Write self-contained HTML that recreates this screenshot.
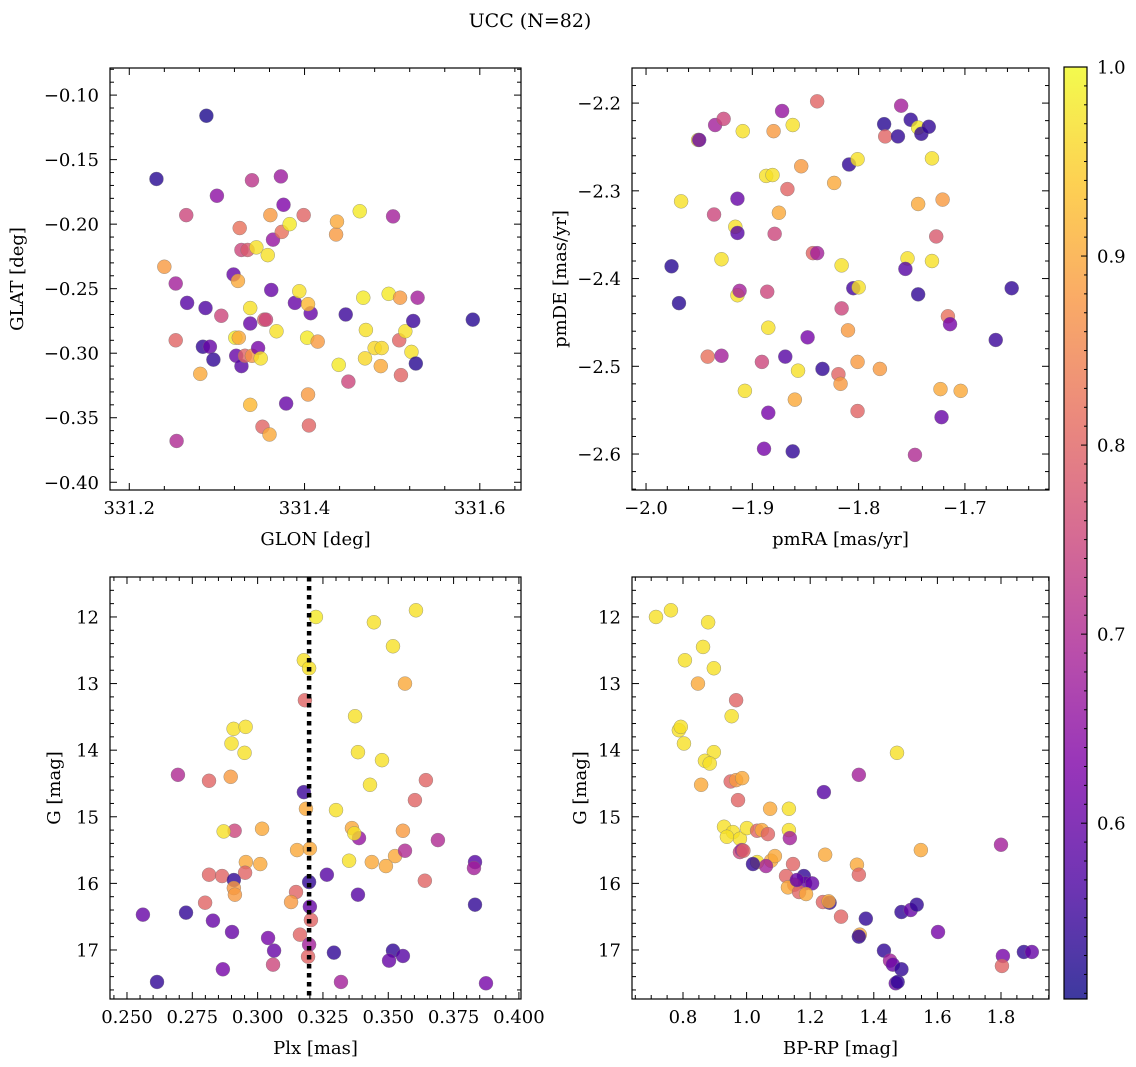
<!DOCTYPE html>
<html><head><meta charset="utf-8">
<style>
html,body{margin:0;padding:0;background:#fff;}
svg{display:block;font-family:"DejaVu Serif","Liberation Serif",serif;}
</style></head>
<body>
<svg id="chart" width="1136" height="1067" viewBox="0 0 1136 1067" xmlns="http://www.w3.org/2000/svg">
<defs>
<linearGradient id="plasma" x1="0" y1="1" x2="0" y2="0">
<stop offset="0" stop-color="#0d0887"/><stop offset="0.125" stop-color="#4c02a1"/><stop offset="0.25" stop-color="#7e03a8"/><stop offset="0.375" stop-color="#a92395"/><stop offset="0.5" stop-color="#cc4778"/><stop offset="0.625" stop-color="#e66c5c"/><stop offset="0.75" stop-color="#f89540"/><stop offset="0.875" stop-color="#fdc527"/><stop offset="1" stop-color="#f0f921"/>
</linearGradient>
</defs>
<text x="530" y="27" text-anchor="middle" font-size="19">UCC (N=82)</text>
</svg>
<script>
// ---------- data ----------
const glon=[331.288,331.231,331.265,331.300,331.340,331.373,331.240,331.253,331.266,331.253,331.254,331.287,331.284,331.292,331.296,331.281,331.305,331.319,331.326,331.328,331.335,331.345,331.324,331.321,331.325,331.322,331.328,331.332,331.340,331.338,331.338,331.347,331.350,331.338,331.352,331.360,331.354,331.356,331.361,331.358,331.364,331.362,331.368,331.374,331.383,331.376,331.399,331.389,331.394,331.379,331.403,331.407,331.404,331.415,331.404,331.405,331.436,331.437,331.463,331.467,331.447,331.439,331.450,331.470,331.469,331.480,331.488,331.487,331.496,331.501,331.509,331.508,331.515,331.522,331.510,331.529,331.524,331.527,331.592];
const glat=[-0.116,-0.165,-0.193,-0.178,-0.166,-0.163,-0.233,-0.246,-0.261,-0.290,-0.368,-0.265,-0.295,-0.295,-0.305,-0.316,-0.271,-0.239,-0.203,-0.220,-0.220,-0.218,-0.244,-0.288,-0.288,-0.302,-0.310,-0.302,-0.302,-0.265,-0.277,-0.296,-0.304,-0.340,-0.357,-0.363,-0.274,-0.274,-0.193,-0.224,-0.212,-0.251,-0.283,-0.206,-0.200,-0.185,-0.193,-0.261,-0.252,-0.339,-0.288,-0.269,-0.262,-0.291,-0.332,-0.356,-0.208,-0.198,-0.190,-0.257,-0.270,-0.309,-0.322,-0.282,-0.304,-0.296,-0.296,-0.310,-0.254,-0.194,-0.257,-0.290,-0.283,-0.299,-0.317,-0.257,-0.275,-0.308,-0.274];
const probA=[0.52,0.53,0.75,0.65,0.72,0.67,0.88,0.68,0.58,0.80,0.70,0.57,0.54,0.60,0.54,0.90,0.75,0.60,0.82,0.75,0.78,0.97,0.90,0.98,0.90,0.60,0.58,0.80,0.87,0.97,0.60,0.62,0.97,0.92,0.80,0.90,0.80,0.75,0.88,0.97,0.66,0.60,0.97,0.82,0.98,0.63,0.80,0.60,0.97,0.60,0.98,0.60,0.92,0.88,0.88,0.80,0.88,0.90,0.98,0.98,0.55,0.98,0.75,0.97,0.96,0.96,0.96,0.90,0.98,0.68,0.88,0.80,0.97,0.97,0.80,0.68,0.55,0.53,0.53];

const pmra=[-1.951,-1.950,-1.935,-1.927,-1.909,-1.872,-1.880,-1.862,-1.839,-1.967,-1.887,-1.881,-1.914,-1.867,-1.854,-1.875,-1.823,-1.809,-1.801,-1.936,-1.916,-1.914,-1.879,-1.976,-1.969,-1.929,-1.914,-1.912,-1.886,-1.843,-1.839,-1.816,-1.805,-1.800,-1.816,-1.810,-1.776,-1.775,-1.763,-1.760,-1.751,-1.744,-1.741,-1.734,-1.731,-1.744,-1.721,-1.731,-1.754,-1.756,-1.744,-1.727,-1.716,-1.714,-1.656,-1.671,-1.848,-1.885,-1.942,-1.929,-1.891,-1.869,-1.834,-1.857,-1.819,-1.817,-1.801,-1.780,-1.907,-1.860,-1.723,-1.704,-1.885,-1.801,-1.722,-1.889,-1.862,-1.747];
const pmde=[-2.242,-2.242,-2.225,-2.218,-2.232,-2.209,-2.232,-2.225,-2.198,-2.312,-2.283,-2.282,-2.309,-2.298,-2.272,-2.325,-2.291,-2.270,-2.264,-2.327,-2.341,-2.348,-2.349,-2.386,-2.428,-2.378,-2.419,-2.414,-2.415,-2.371,-2.371,-2.385,-2.411,-2.410,-2.434,-2.459,-2.224,-2.238,-2.238,-2.203,-2.219,-2.228,-2.235,-2.227,-2.263,-2.315,-2.310,-2.380,-2.377,-2.389,-2.418,-2.352,-2.443,-2.452,-2.411,-2.470,-2.467,-2.456,-2.489,-2.488,-2.495,-2.489,-2.503,-2.505,-2.509,-2.520,-2.495,-2.503,-2.528,-2.538,-2.526,-2.528,-2.553,-2.551,-2.558,-2.594,-2.597,-2.601];
const probB=[0.97,0.60,0.68,0.75,0.97,0.66,0.88,0.97,0.80,0.97,0.97,0.97,0.60,0.80,0.88,0.90,0.90,0.54,0.97,0.75,0.97,0.58,0.75,0.53,0.53,0.97,0.97,0.68,0.75,0.80,0.68,0.97,0.56,0.97,0.75,0.88,0.53,0.80,0.54,0.68,0.54,0.98,0.54,0.54,0.97,0.90,0.88,0.97,0.97,0.58,0.54,0.78,0.82,0.62,0.54,0.55,0.62,0.97,0.82,0.68,0.75,0.58,0.54,0.97,0.80,0.88,0.88,0.88,0.97,0.90,0.90,0.90,0.62,0.80,0.60,0.62,0.54,0.70];

const plx=[0.3606,0.3223,0.3445,0.3518,0.3177,0.3197,0.3564,0.3181,0.3373,0.2908,0.2954,0.2900,0.2950,0.3384,0.3476,0.2695,0.2814,0.2897,0.3430,0.3644,0.3602,0.3177,0.3185,0.3300,0.3017,0.2912,0.2870,0.3361,0.3388,0.3370,0.3556,0.3690,0.3151,0.3200,0.3526,0.3564,0.3437,0.3350,0.3491,0.2955,0.3010,0.2952,0.2814,0.2864,0.2909,0.3197,0.3640,0.3832,0.3828,0.2909,0.2913,0.3147,0.3128,0.3265,0.3384,0.2799,0.3200,0.3832,0.2561,0.2726,0.2829,0.3204,0.2902,0.3040,0.3162,0.3197,0.3063,0.3292,0.3518,0.3556,0.3503,0.3193,0.3059,0.2867,0.2615,0.3319,0.3874];
const gC=[11.90,12.00,12.08,12.44,12.65,12.77,13.00,13.25,13.49,13.68,13.65,13.90,14.04,14.03,14.15,14.37,14.46,14.40,14.52,14.45,14.75,14.63,14.88,14.90,15.18,15.21,15.22,15.17,15.32,15.25,15.21,15.35,15.50,15.48,15.59,15.51,15.68,15.66,15.74,15.68,15.71,15.84,15.87,15.89,15.95,15.98,15.96,15.68,15.77,16.07,16.17,16.13,16.28,15.87,16.17,16.29,16.35,16.32,16.47,16.44,16.56,16.55,16.73,16.82,16.77,16.92,17.01,17.04,17.01,17.09,17.16,17.10,17.22,17.29,17.48,17.48,17.50];
const probC=[0.97,0.98,0.97,0.97,0.97,0.97,0.90,0.80,0.97,0.97,0.97,0.97,0.97,0.97,0.97,0.70,0.80,0.88,0.97,0.80,0.80,0.55,0.90,0.97,0.90,0.75,0.97,0.90,0.66,0.97,0.88,0.70,0.90,0.90,0.90,0.70,0.90,0.97,0.90,0.90,0.90,0.80,0.80,0.80,0.54,0.54,0.80,0.58,0.68,0.88,0.88,0.80,0.88,0.58,0.58,0.80,0.60,0.54,0.60,0.54,0.60,0.80,0.60,0.62,0.80,0.68,0.60,0.54,0.54,0.58,0.60,0.80,0.75,0.62,0.54,0.68,0.62];

const bprp=[0.715,0.762,0.879,0.863,0.806,0.897,0.847,0.967,0.953,0.787,0.793,0.803,0.897,0.869,0.884,0.857,0.950,0.967,0.986,0.973,1.353,1.473,1.243,1.074,1.133,0.929,0.957,0.979,0.938,1.001,1.033,1.048,1.067,1.133,1.136,0.979,0.985,0.990,1.033,1.077,1.089,1.061,1.146,1.020,1.247,1.347,1.353,1.548,1.800,1.124,1.180,1.184,1.150,1.206,1.130,1.165,1.187,1.158,1.240,1.261,1.258,1.375,1.297,1.356,1.353,1.487,1.516,1.535,1.432,1.451,1.460,1.487,1.469,1.475,1.602,1.806,1.803,1.872,1.897];
const gD=[12.00,11.90,12.08,12.45,12.65,12.77,13.00,13.25,13.49,13.70,13.65,13.90,14.03,14.16,14.20,14.52,14.47,14.45,14.42,14.75,14.37,14.04,14.63,14.88,14.88,15.15,15.23,15.33,15.30,15.17,15.21,15.20,15.26,15.20,15.32,15.53,15.50,15.51,15.68,15.66,15.59,15.74,15.71,15.71,15.57,15.72,15.87,15.50,15.42,15.89,15.89,16.00,16.02,16.00,16.06,16.13,16.16,15.95,16.28,16.29,16.27,16.53,16.50,16.77,16.80,16.43,16.40,16.32,17.01,17.16,17.22,17.29,17.50,17.48,16.73,17.09,17.24,17.03,17.03];
const probD=[0.97,0.97,0.97,0.97,0.97,0.97,0.90,0.80,0.97,0.97,0.97,0.97,0.97,0.97,0.97,0.90,0.80,0.88,0.90,0.80,0.68,0.97,0.58,0.90,0.97,0.97,0.97,0.97,0.97,0.97,0.80,0.90,0.80,0.97,0.68,0.75,0.68,0.80,0.97,0.90,0.90,0.68,0.80,0.54,0.90,0.90,0.80,0.90,0.68,0.80,0.54,0.60,0.80,0.60,0.90,0.80,0.90,0.60,0.80,0.54,0.90,0.54,0.80,0.90,0.54,0.54,0.60,0.54,0.54,0.68,0.60,0.54,0.60,0.54,0.62,0.62,0.80,0.54,0.60];

const cbTicks=[0.6,0.7,0.8,0.9,1.0];
const plxRef=[0.3197];

// ---------- helpers ----------
const NS="http://www.w3.org/2000/svg";
const svg=document.getElementById('chart');
const FS=18;
function mk(tag,attrs,parent){const e=document.createElementNS(NS,tag);for(const k in attrs)e.setAttribute(k,attrs[k]);(parent||svg).appendChild(e);return e;}
const VMIN=0.507,VMAX=1.0;
const stops=[[13,8,135],[76,2,161],[126,3,168],[169,35,149],[204,71,120],[230,108,92],[248,149,64],[253,197,39],[240,249,33]];
function cmap(v){let t=(v-VMIN)/(VMAX-VMIN);t=Math.max(0,Math.min(1,t));const f=t*8;const i=Math.min(7,Math.floor(f));const r=f-i;const a=stops[i],b=stops[i+1];return 'rgb('+[0,1,2].map(j=>Math.round(a[j]+(b[j]-a[j])*r)).join(',')+')';}
function fmt(v,d){const s=Math.abs(v).toFixed(d);return (v<-1e-9?'\u2212':'')+s;}

function panel(o){
  const g=mk('g',{},svg);
  
  
  const sx=v=>o.x0+(v-o.xmin)/(o.xmax-o.xmin)*(o.x1-o.x0);
  const sy=o.yinv?(v=>o.y0+(v-o.ymin)/(o.ymax-o.ymin)*(o.y1-o.y0)):(v=>o.y1-(v-o.ymin)/(o.ymax-o.ymin)*(o.y1-o.y0));
  const pg=mk('g',{},g);
  
  
  for(let i=0;i<o.xs.length;i++){
    const c=mk('circle',{cx:sx(o.xs[i]),cy:sy(o.ys[i]),r:7,fill:cmap(o.ps[i]),'fill-opacity':0.8,stroke:'#777','stroke-width':0.5,'stroke-opacity':0.7},pg);
    
    
  }
  if(o.extra)o.extra(g,sx,sy);
  const fr=mk('rect',{x:o.x0,y:o.y0,width:o.x1-o.x0,height:o.y1-o.y0,fill:'none',stroke:'#000','stroke-width':1.2},g);
  
  
  const tg=mk('g',{stroke:'#000','stroke-width':1},g);
  
  
  const eps=1e-9;
  for(let k=Math.ceil((o.xmin-eps)/o.xminor);k*o.xminor<=o.xmax+eps;k++){
    const v=k*o.xminor;const major=Math.abs(v/o.xmajor-Math.round(v/o.xmajor))<1e-6;const L=major?7:4;const X=sx(v);
    mk('line',{x1:X,y1:o.y1,x2:X,y2:o.y1-L},tg);mk('line',{x1:X,y1:o.y0,x2:X,y2:o.y0+L},tg);
    if(major){const t=mk('text',{x:X,y:o.y1+24,'text-anchor':'middle','font-size':FS,stroke:'none',fill:'#000'},g);t.textContent=fmt(v,o.xd);
      }
  }
  for(let k=Math.ceil((o.ymin-eps)/o.yminor);k*o.yminor<=o.ymax+eps;k++){
    const v=k*o.yminor;const major=Math.abs(v/o.ymajor-Math.round(v/o.ymajor))<1e-6;const L=major?7:4;const Y=sy(v);
    mk('line',{x1:o.x0,y1:Y,x2:o.x0+L,y2:Y},tg);mk('line',{x1:o.x1,y1:Y,x2:o.x1-L,y2:Y},tg);
    if(major){const t=mk('text',{x:o.x0-11,y:Y+6.5,'text-anchor':'end','font-size':FS,stroke:'none',fill:'#000'},g);t.textContent=fmt(v,o.yd);
      }
  }
  const xl=mk('text',{x:(o.x0+o.x1)/2,y:o.y1+55,'text-anchor':'middle','font-size':FS},g);xl.textContent=o.xlabel;
  
  const yx=o.ylx;const yy=(o.y0+o.y1)/2;
  const yl=mk('text',{x:yx,y:yy,'text-anchor':'middle','font-size':FS,transform:'rotate(-90 '+yx+' '+yy+')'},g);yl.textContent=o.ylabel;
  
}

panel({name:'glon-glat-panel',xs:glon,ys:glat,ps:probA,x0:110,x1:521,y0:68,y1:490,
  xmin:331.178,xmax:331.647,ymin:-0.406,ymax:-0.079,xmajor:0.2,xminor:0.04,ymajor:0.05,yminor:0.01,xd:1,yd:2,
  xlabel:'GLON [deg]',ylabel:'GLAT [deg]',ylx:23});
panel({name:'pm-panel',xs:pmra,ys:pmde,ps:probB,x0:632,x1:1049,y0:68,y1:490,
  xmin:-2.0132,xmax:-1.6209,ymin:-2.641,ymax:-2.160,xmajor:0.1,xminor:0.02,ymajor:0.1,yminor:0.02,xd:1,yd:1,
  xlabel:'pmRA [mas/yr]',ylabel:'pmDE [mas/yr]',ylx:566});
panel({name:'plx-g-panel',xs:plx,ys:gC,ps:probC,x0:110,x1:521,y0:577,y1:999,yinv:true,
  xmin:0.2435,xmax:0.4008,ymin:11.40,ymax:17.736,xmajor:0.025,xminor:0.005,ymajor:1,yminor:0.2,xd:3,yd:0,
  xlabel:'Plx [mas]',ylabel:'G [mag]',ylx:60,
  extra:(g,sx,sy)=>{const l=mk('line',{x1:sx(plxRef[0]),y1:577,x2:sx(plxRef[0]),y2:999,stroke:'#000','stroke-width':4.5,'stroke-dasharray':'4.5 4.5'},g);
    }});
panel({name:'cmd-panel',xs:bprp,ys:gD,ps:probD,x0:632,x1:1049,y0:577,y1:999,yinv:true,
  xmin:0.6396,xmax:1.951,ymin:11.40,ymax:17.736,xmajor:0.2,xminor:0.05,ymajor:1,yminor:0.2,xd:1,yd:0,
  xlabel:'BP-RP [mag]',ylabel:'G [mag]',ylx:586});

// colorbar
(function(){
  const g=mk('g',{},svg);
  
  
  const x0=1064,x1=1087,y0=67,y1=999;
  const r=mk('rect',{x:x0,y:y0,width:x1-x0,height:y1-y0,fill:'url(#plasma)','fill-opacity':0.8},g);
  
  mk('rect',{x:x0,y:y0,width:x1-x0,height:y1-y0,fill:'none',stroke:'#000','stroke-width':1.2},g);
  const sy=v=>y1-(v-VMIN)/(VMAX-VMIN)*(y1-y0);
  for(let k=51;k<=100;k++){const v=k/100;const major=k%10===0;const Y=sy(v);
    mk('line',{x1:x1,y1:Y,x2:x1-(major?6:3),y2:Y,stroke:'#000','stroke-width':1},g);}
  cbTicks.forEach(v=>{const t=mk('text',{x:x1+10,y:sy(v)+6.5,'font-size':FS},g);t.textContent=v.toFixed(1);
    });
})();
</script>
</body></html>
